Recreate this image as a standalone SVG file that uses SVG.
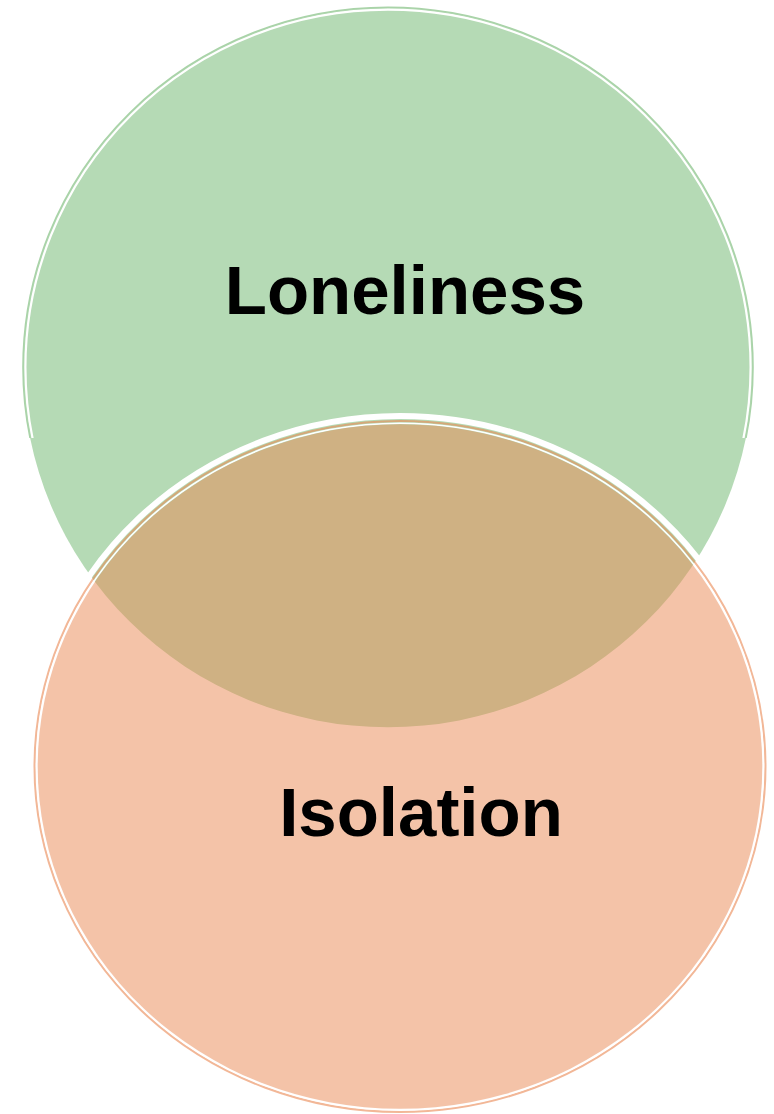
<svg xmlns="http://www.w3.org/2000/svg" width="774" height="1114" viewBox="0 0 774 1114">
  <style>
    .label { font-family: "Liberation Sans", Arial, sans-serif; font-weight: bold; font-size: 69px; fill: #000; text-anchor: middle; }
    .gap { fill: none; stroke: #ffffff; }
  </style>
  <defs>
    <clipPath id="topPart">
      <rect x="0" y="0" width="774" height="438"/>
    </clipPath>
  </defs>
  <rect width="774" height="1114" fill="#ffffff"/>
  <g id="loneliness">
    <ellipse cx="388" cy="367.3" rx="365" ry="360" fill="#B5DAB5"/>
    <g clip-path="url(#topPart)">
      <ellipse class="gap" cx="388" cy="367.3" rx="362.6" ry="357.6" stroke-width="2.2"/>
      <ellipse cx="388" cy="367.3" rx="365" ry="360" fill="none" stroke="#A9D3A8" stroke-width="1.6"/>
    </g>
    <text class="label" x="405" y="314">Loneliness</text>
  </g>
  <g id="isolation">
    <ellipse class="gap" cx="400" cy="766.5" rx="370" ry="350.5" stroke-width="6"/>
    <ellipse cx="400" cy="766.5" rx="365.5" ry="345.5" fill="none" stroke="#E98751" stroke-opacity="0.6" stroke-width="2"/>
    <ellipse class="gap" cx="400" cy="766.5" rx="363.3" ry="343.3" stroke-width="1.6"/>
    <ellipse cx="400" cy="766.5" rx="362.3" ry="342.3" fill="#E98751" fill-opacity="0.5"/>
    <text class="label" x="421" y="836">Isolation</text>
  </g>
  <g id="connectors"/>
</svg>
